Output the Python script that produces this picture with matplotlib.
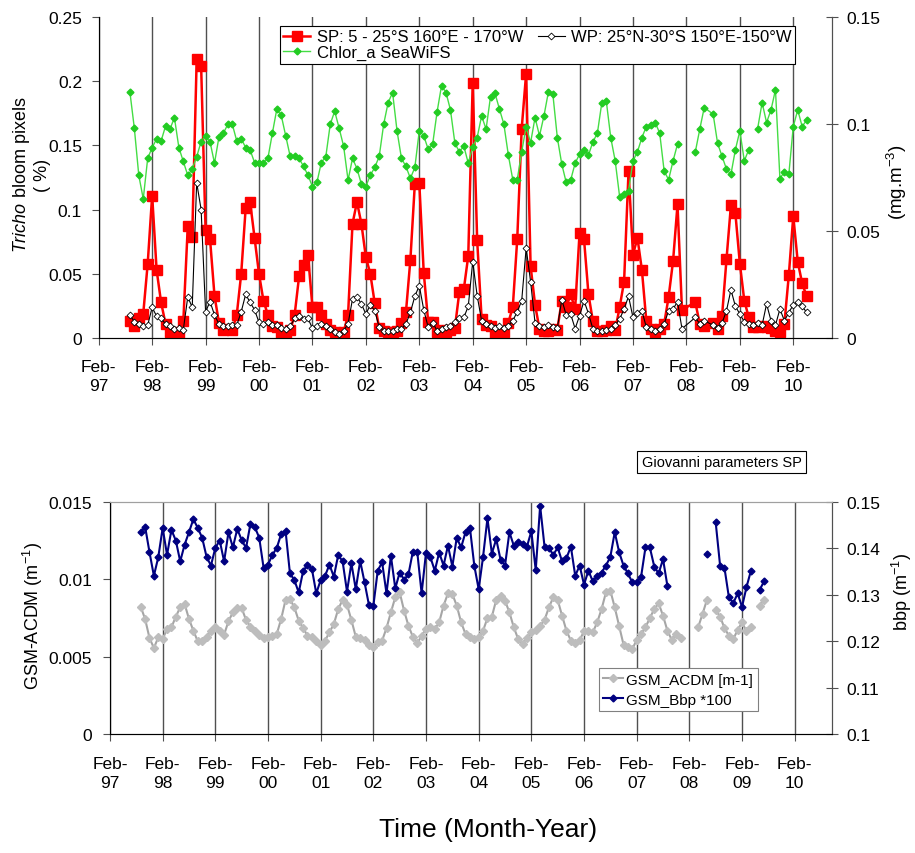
import numpy as np
import matplotlib.pyplot as plt

plt.rcParams['font.family'] = ['Liberation Sans', 'DejaVu Sans']
plt.rcParams['mathtext.fontset'] = 'custom'
plt.rcParams['mathtext.rm'] = 'Liberation Sans'
plt.rcParams['mathtext.it'] = 'Liberation Sans:italic'

nan = np.nan

# x = months counted from Feb-97 (0 = Feb-97, 12 = Feb-98, ...)
months_top = np.concatenate([np.arange(7, 137), np.arange(138, 160)])
months_gsm = np.arange(7, 150)

# Tricho bloom pixels (%) - South Pacific box
sp_pixels = np.array(
    [0.0135, 0.009, 0.0155, 0.019, 0.058]
    + [0.111, 0.053, 0.028, 0.011, 0.005, 0.0045, 0.0035, 0.013, 0.087, 0.079, 0.217, 0.212]
    + [0.084, 0.077, 0.033, 0.012, 0.0065, 0.007, 0.0065, 0.018, 0.050, 0.101, 0.106, 0.078]
    + [0.050, 0.029, 0.018, 0.009, 0.0085, 0.004, 0.004, 0.006, 0.018, 0.048, 0.057, 0.065]
    + [0.024, 0.024, 0.018, 0.011, 0.0065, 0.0045, 0.002, 0.0045, 0.018, 0.089, 0.106, 0.089]
    + [0.063, 0.050, 0.027, 0.0075, 0.0055, 0.005, 0.005, 0.0055, 0.012, 0.020, 0.061, 0.120]
    + [0.121, 0.051, 0.0125, 0.0125, 0.005, 0.006, 0.005, 0.0065, 0.008, 0.036, 0.038, 0.064]
    + [0.199, 0.076, 0.015, 0.010, 0.009, 0.004, 0.005, 0.005, 0.012, 0.024, 0.077, 0.163]
    + [0.206, 0.056, 0.026, 0.007, 0.0057, 0.0057, 0.007, 0.0065, 0.029, 0.024, 0.034, 0.0225]
    + [0.082, 0.077, 0.034, 0.013, 0.0057, 0.0057, 0.006, 0.009, 0.006, 0.024, 0.044, 0.130]
    + [0.065, 0.078, 0.053, 0.013, 0.007, 0.005, 0.007, 0.011, 0.032, 0.060, 0.104, 0.022]
    + [nan, nan, 0.0278, 0.011, 0.0096, 0.0117, 0.007, 0.0169, 0.0613, 0.1036, 0.097]
    + [0.058, 0.0291, 0.0161, 0.0083, 0.0083, 0.009, 0.0083, 0.0075, 0.0057, 0.0044, 0.011, 0.049]
    + [0.095, 0.0595, 0.0426, 0.0325])

# Tricho bloom pixels (%) - West Pacific box
wp_pixels = np.array(
    [0.0179, 0.0127, 0.011, 0.009, 0.010]
    + [0.0239, 0.017, 0.0153, 0.011, 0.009, 0.007, 0.0075, 0.0065, 0.032, 0.024, 0.121, 0.100]
    + [0.0204, 0.0284, 0.018, 0.011, 0.009, 0.009, 0.010, 0.010, 0.0204, 0.034, 0.0278, 0.022]
    + [0.0122, 0.011, 0.0127, 0.010, 0.010, 0.0078, 0.007, 0.009, 0.0153, 0.0174, 0.015, 0.0153]
    + [0.0075, 0.0096, 0.011, 0.009, 0.007, 0.0044, 0.0031, 0.0057, 0.011, 0.0304, 0.0322, 0.0265]
    + [0.0187, 0.0257, 0.0213, 0.0083, 0.0057, 0.0057, 0.0057, 0.007, 0.007, 0.011, 0.020, 0.0325]
    + [0.0408, 0.022, 0.0083, 0.012, 0.0057, 0.007, 0.0083, 0.0096, 0.0127, 0.0153, 0.016, 0.0247]
    + [0.0595, 0.033, 0.0135, 0.011, 0.009, 0.008, 0.009, 0.008, 0.0096, 0.0135, 0.0205, 0.029]
    + [0.070, 0.044, 0.0117, 0.0096, 0.0083, 0.010, 0.0083, 0.0075, 0.030, 0.018, 0.0187, 0.0073]
    + [0.0174, 0.029, 0.019, 0.007, 0.0057, 0.0057, 0.006, 0.0073, 0.010, 0.0148, 0.0226, 0.0325]
    + [0.016, 0.0197, 0.0213, 0.0083, 0.007, 0.0055, 0.007, 0.011, 0.0213, 0.0226, 0.0283, 0.0073]
    + [nan, nan, 0.016, 0.011, 0.0135, 0.010, 0.008, 0.0117, 0.0213, 0.0376, 0.0247]
    + [0.0187, 0.0127, 0.011, 0.010, 0.0117, 0.010, 0.0265, 0.0135, 0.010, 0.0226, 0.0135, 0.0197]
    + [0.026, 0.028, 0.0247, 0.020])

# Chlorophyll a SeaWiFS (mg.m-3)
chlor_a = np.array(
    [0.115, 0.098, 0.076, 0.065, 0.084]
    + [0.089, 0.093, 0.092, 0.099, 0.0976, 0.103, 0.089, 0.0825, 0.076, 0.079, 0.0847, 0.0918]
    + [0.0945, 0.0917, 0.0817, 0.0939, 0.0957, 0.0999, 0.0999, 0.0921, 0.0932, 0.089, 0.0879, 0.082]
    + [0.0817, 0.082, 0.084, 0.0957, 0.107, 0.104, 0.0945, 0.0849, 0.0849, 0.084, 0.0802, 0.0761]
    + [0.0708, 0.0727, 0.082, 0.0847, 0.0999, 0.106, 0.098, 0.0897, 0.0738, 0.0839, 0.0792, 0.0719]
    + [0.0708, 0.0761, 0.0797, 0.0849, 0.0999, 0.110, 0.1147, 0.0968, 0.0839, 0.0802, 0.0746, 0.0797]
    + [0.0968, 0.0945, 0.0882, 0.0906, 0.1057, 0.118, 0.1147, 0.1066, 0.091, 0.087, 0.0897, 0.0817]
    + [0.0894, 0.0937, 0.1038, 0.0976, 0.1128, 0.1144, 0.107, 0.0999, 0.0855, 0.074, 0.074, 0.087]
    + [0.0988, 0.0913, 0.103, 0.0945, 0.1038, 0.115, 0.114, 0.0937, 0.0813, 0.0727, 0.0738, 0.0817]
    + [0.0859, 0.088, 0.0855, 0.0917, 0.0957, 0.110, 0.1108, 0.0937, 0.0828, 0.066, 0.0672, 0.0688]
    + [0.0828, 0.087, 0.0937, 0.0988, 0.0994, 0.1007, 0.0957, 0.078, 0.074, 0.0828, 0.0906, nan]
    + [nan, nan, 0.087, 0.0976, 0.1077, 0.1046, 0.091, 0.0849, 0.0789, 0.0765, 0.088]
    + [0.0968, 0.0828, 0.088, nan, 0.0979, 0.110, 0.1007, 0.1066, 0.116, 0.0745, 0.0777, 0.0765]
    + [0.0988, 0.1066, 0.0988, 0.1019])

# GSM ACDM (m-1)
gsm_acdm = np.array(
    [0.00823, 0.00744, 0.00621, 0.00556, 0.00625]
    + [0.00614, 0.00679, 0.00690, 0.00759, 0.00819, 0.00841, 0.00744, 0.00668, 0.00599, 0.00604, 0.00629, 0.00664]
    + [0.00694, 0.00668, 0.00643, 0.00729, 0.00787, 0.00815, 0.00815, 0.00737, 0.00694, 0.00664, 0.00643, 0.00621]
    + [0.00625, 0.00636, 0.00647, 0.00744, 0.00867, 0.00873, 0.00819, 0.00733, 0.00685, 0.00636, 0.00625, 0.00604]
    + [0.00578, 0.00604, 0.00657, 0.00711, 0.00808, 0.00867, 0.00836, 0.00737, 0.00629, 0.00621, 0.00608, 0.00578]
    + [0.00560, 0.00593, 0.00604, 0.00685, 0.00787, 0.00884, 0.00916, 0.00798, 0.00700, 0.00629, 0.00586, 0.00636]
    + [0.00679, 0.00690, 0.00679, 0.00722, 0.00830, 0.00909, 0.00905, 0.00830, 0.00722, 0.00647, 0.00625, 0.00614]
    + [0.00625, 0.00668, 0.00750, 0.00759, 0.00867, 0.00895, 0.00862, 0.00787, 0.00690, 0.00614, 0.00582, 0.00621]
    + [0.00657, 0.00672, 0.00700, 0.00737, 0.00819, 0.00884, 0.00867, 0.00765, 0.00668, 0.00604, 0.00586, 0.00608]
    + [0.00664, 0.00668, 0.00657, 0.00722, 0.00808, 0.00916, 0.00927, 0.00819, 0.00700, 0.00578, 0.00565, 0.00550]
    + [0.00608, 0.00647, 0.00690, 0.00750, 0.00808, 0.00845, 0.00765, 0.00668, 0.00608, 0.00647, 0.00621, nan]
    + [nan, nan, 0.00690, 0.00776, 0.00867, nan, 0.00802, 0.00759, 0.00685, 0.00636, 0.00614, 0.00672]
    + [0.00722, 0.00664, 0.00690, nan, 0.00830, 0.00867])

# GSM bbp * 100
gsm_bbp = np.array(
    [0.1435, 0.1447, 0.1392, 0.1341, 0.1381]
    + [0.1444, 0.1386, 0.1440, 0.1417, 0.1372, 0.1408, 0.1435, 0.1463, 0.1444, 0.1423, 0.1382, 0.1363]
    + [0.1401, 0.1417, 0.1372, 0.1435, 0.1402, 0.1442, 0.1418, 0.1401, 0.1453, 0.1446, 0.1423, 0.1358]
    + [0.1365, 0.1386, 0.1401, 0.1431, 0.1438, 0.1346, 0.1332, 0.1305, 0.1351, 0.1365, 0.1356, 0.1303]
    + [0.1332, 0.1341, 0.1365, 0.1339, 0.1386, 0.1372, 0.1307, 0.1368, 0.1312, 0.1373, 0.1327, 0.1278]
    + [0.1276, 0.1352, 0.1370, 0.1303, 0.1384, 0.1314, 0.1348, 0.1333, 0.1344, 0.1393, 0.1393, 0.1303]
    + [0.1391, 0.1381, 0.1352, 0.1391, 0.1363, 0.1406, 0.1361, 0.1423, 0.1402, 0.1435, 0.1445, 0.1363]
    + [0.1312, 0.1382, 0.1465, 0.1389, 0.1420, 0.1375, 0.1363, 0.1435, 0.1406, 0.1413, 0.1410, 0.1404]
    + [0.1437, 0.1353, 0.1492, 0.1404, 0.1401, 0.1386, 0.1402, 0.1372, 0.1379, 0.1404, 0.1341, 0.1363]
    + [0.1322, 0.1352, 0.1329, 0.1341, 0.1348, 0.1363, 0.1382, 0.1435, 0.1392, 0.1363, 0.1346, 0.1327]
    + [0.1327, 0.1339, 0.1402, 0.1402, 0.1361, 0.1346, 0.1377, 0.1319, nan, nan, nan, nan]
    + [nan, nan, nan, nan, 0.1389, nan, 0.1456, 0.1363, 0.1358, 0.1295, 0.1282, 0.1303]
    + [0.1274, 0.1316, 0.1351, nan, 0.1310, 0.1329])

tick_months = np.arange(0, 157, 12)
tick_labels = ["Feb-\n" + y for y in ["97", "98", "99", "00", "01", "02", "03",
                                      "04", "05", "06", "07", "08", "09", "10"]]

grid_col = "#505050"
fs_tick = 12.5

fig = plt.figure(figsize=(9.15, 8.54), dpi=100)

# ---------------- top chart ----------------
ax1 = fig.add_axes([0.1079, 0.6030, 0.8014, 0.3759])
ax1.set_xlim(0, 164.7)
ax1.set_ylim(0, 0.25)
for m in tick_months:
    ax1.axvline(m, color=grid_col, lw=1.0, zorder=0)

ok = ~np.isnan(sp_pixels)
l_sp, = ax1.plot(months_top[ok], sp_pixels[ok], color="red", lw=1.8, marker="s",
                 ms=6.5, mec="red", zorder=3)
ok = ~np.isnan(wp_pixels)
l_wp, = ax1.plot(months_top[ok], wp_pixels[ok], color="black", lw=0.8, marker="D",
                 ms=3.5, mfc="white", mec="black", mew=0.6, zorder=4)

ax1.set_xticks(tick_months, tick_labels)
ax1.set_yticks([0, 0.05, 0.1, 0.15, 0.2, 0.25], ["0", "0.05", "0.1", "0.15", "0.2", "0.25"])
ax1.tick_params(axis="x", direction="out", length=5, pad=10, labelsize=fs_tick, color=grid_col)
ax1.tick_params(axis="y", direction="out", length=5, pad=7, labelsize=fs_tick, color=grid_col)
for lbl in ax1.get_xticklabels():
    lbl.set_linespacing(1.35)
ax1.spines["top"].set_visible(False)
for s in ["left", "bottom", "right"]:
    ax1.spines[s].set_color(grid_col)

ax1b = ax1.twinx()
ax1b.set_ylim(0, 0.15)
l_chl, = ax1b.plot(months_top, chlor_a, color="#44dd44", lw=1.0, marker="D", ms=3.5,
                   mfc="#22cc22", mec="#22cc22")
ax1b.set_yticks([0, 0.05, 0.1, 0.15], ["0", "0.05", "0.1", "0.15"])
ax1b.tick_params(axis="y", direction="inout", length=9, pad=6, labelsize=fs_tick, color=grid_col)
ax1b.spines["top"].set_visible(False)
ax1b.spines["right"].set_color(grid_col)

leg = ax1b.legend([l_sp, l_chl, l_wp],
                  ["SP: 5 - 25°S 160°E - 170°W", "Chlor_a SeaWiFS", "WP: 25°N-30°S 150°E-150°W"],
                  ncol=2, loc="upper left", bbox_to_anchor=(0.247, 0.972), borderaxespad=0,
                  fancybox=False, edgecolor="black", framealpha=1, fontsize=12,
                  handlelength=1.6, handletextpad=0.4, columnspacing=0.9,
                  borderpad=0.2, labelspacing=0.05)
leg.get_frame().set_linewidth(0.8)

fig.text(31 / 915, 1 - 175 / 854, "$\\mathit{Tricho}$ bloom pixels\n( %)", rotation=90,
         ha="center", va="center", fontsize=13, multialignment="center", linespacing=1.2)
fig.text(897 / 915, 1 - 182 / 854, "(mg.m$^{-3}$)", rotation=90, ha="center", va="center",
         fontsize=13.5)

# ---------------- bottom chart ----------------
ax2 = fig.add_axes([0.1202, 0.1393, 0.7891, 0.2717])
ax2.set_xlim(0, 164.5)
ax2.set_ylim(0, 0.015)
for m in tick_months:
    ax2.axvline(m, color=grid_col, lw=1.0, zorder=0)

l_acdm, = ax2.plot(months_gsm, gsm_acdm, color="#a6a6a6", lw=1.5, marker="D", ms=4,
                   mfc="#bdbdbd", mec="#bdbdbd", zorder=3)
ax2.set_xticks(tick_months, tick_labels)
ax2.set_yticks([0, 0.005, 0.01, 0.015], ["0", "0.005", "0.01", "0.015"])
ax2.tick_params(axis="x", direction="out", length=5, pad=11, labelsize=fs_tick, color=grid_col)
ax2.tick_params(axis="y", direction="out", length=5, pad=8, labelsize=fs_tick, color=grid_col)
for lbl in ax2.get_xticklabels():
    lbl.set_linespacing(1.3)
ax2.spines["top"].set_color("#a0a0a0")
for s in ["left", "bottom", "right"]:
    ax2.spines[s].set_color(grid_col)

ax2b = ax2.twinx()
ax2b.set_ylim(0.1, 0.15)
l_bbp, = ax2b.plot(months_gsm, gsm_bbp, color="#000080", lw=1.5, marker="D", ms=3.5,
                   mfc="#000080", mec="#000080")
ax2b.set_yticks([0.1, 0.11, 0.12, 0.13, 0.14, 0.15],
                ["0.1", "0.11", "0.12", "0.13", "0.14", "0.15"])
ax2b.tick_params(axis="y", direction="inout", length=9, pad=6, labelsize=fs_tick, color=grid_col)
ax2b.spines["top"].set_color("#a0a0a0")
ax2b.spines["right"].set_color(grid_col)

leg2 = ax2b.legend([l_acdm, l_bbp], ["GSM_ACDM [m-1]", "GSM_Bbp *100"],
                   loc="upper left", bbox_to_anchor=(0.677, 0.284), borderaxespad=0,
                   fancybox=False, edgecolor="#808080", framealpha=1, fontsize=11,
                   handlelength=1.3, handletextpad=0.2, borderpad=0.3, labelspacing=0.4)
leg2.get_frame().set_linewidth(0.8)

fig.text(33 / 915, 1 - 616 / 854, "GSM-ACDM (m$^{-1}$)", rotation=90, ha="center",
         va="center", fontsize=13)
fig.text(902 / 915, 1 - 592 / 854, "bbp (m$^{-1}$)", rotation=90, ha="center",
         va="center", fontsize=13)
fig.text(721.5 / 915, 1 - 463 / 854, "Giovanni parameters SP", ha="center", va="center",
         fontsize=10.5, bbox=dict(boxstyle="square,pad=0.3", fc="white", ec="black", lw=0.8))

fig.text(488 / 915, 1 - 830 / 854, "Time (Month-Year)", ha="center", va="center", fontsize=19)

fig.savefig("out.png", dpi=100)
